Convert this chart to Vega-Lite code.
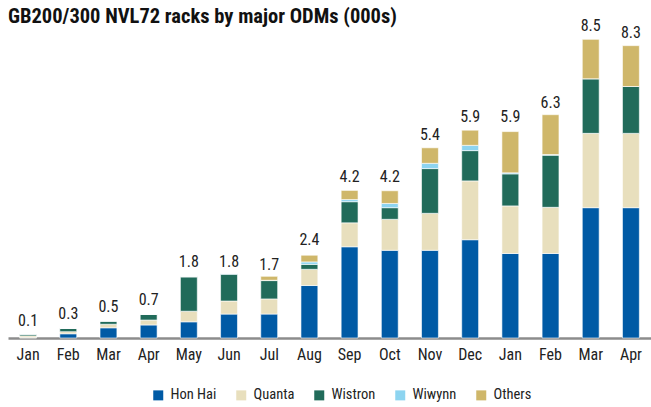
{
  "$schema": "https://vega.github.io/schema/vega-lite/v6.json",
  "width": 643,
  "height": 317,
  "autosize": "none",
  "padding": {"left": 8, "top": 21, "right": 0, "bottom": 69},
  "background": "white",
  "title": {
    "text": "GB200/300 NVL72 racks by major ODMs (000s)",
    "anchor": "start",
    "font": "Liberation Sans Narrow, Roboto Condensed, Roboto",
    "fontSize": 20.5,
    "fontWeight": "bold",
    "color": "#111111",
    "offset": 4,
    "dy": 14
  },
  "data": {
    "values": [
      {"period": "Jan 25", "Hon Hai": 0.01, "Quanta": 0.05, "Wistron": 0.05, "Wiwynn": 0, "Others": 0, "total": 0.1},
      {"period": "Feb 25", "Hon Hai": 0.12, "Quanta": 0.06, "Wistron": 0.09, "Wiwynn": 0, "Others": 0, "total": 0.3},
      {"period": "Mar 25", "Hon Hai": 0.29, "Quanta": 0.10, "Wistron": 0.09, "Wiwynn": 0, "Others": 0, "total": 0.5},
      {"period": "Apr 25", "Hon Hai": 0.37, "Quanta": 0.14, "Wistron": 0.16, "Wiwynn": 0, "Others": 0, "total": 0.7},
      {"period": "May 25", "Hon Hai": 0.46, "Quanta": 0.30, "Wistron": 0.98, "Wiwynn": 0, "Others": 0, "total": 1.8},
      {"period": "Jun 25", "Hon Hai": 0.68, "Quanta": 0.37, "Wistron": 0.76, "Wiwynn": 0.02, "Others": 0, "total": 1.8},
      {"period": "Jul 25", "Hon Hai": 0.68, "Quanta": 0.43, "Wistron": 0.52, "Wiwynn": 0.01, "Others": 0.11, "total": 1.7},
      {"period": "Aug 25", "Hon Hai": 1.49, "Quanta": 0.46, "Wistron": 0.14, "Wiwynn": 0.07, "Others": 0.19, "total": 2.4},
      {"period": "Sep 25", "Hon Hai": 2.59, "Quanta": 0.68, "Wistron": 0.60, "Wiwynn": 0.06, "Others": 0.26, "total": 4.2},
      {"period": "Oct 25", "Hon Hai": 2.49, "Quanta": 0.88, "Wistron": 0.33, "Wiwynn": 0.12, "Others": 0.36, "total": 4.2},
      {"period": "Nov 25", "Hon Hai": 2.49, "Quanta": 1.05, "Wistron": 1.27, "Wiwynn": 0.15, "Others": 0.44, "total": 5.4},
      {"period": "Dec 25", "Hon Hai": 2.79, "Quanta": 1.67, "Wistron": 0.86, "Wiwynn": 0.15, "Others": 0.43, "total": 5.9},
      {"period": "Jan 26", "Hon Hai": 2.40, "Quanta": 1.35, "Wistron": 0.91, "Wiwynn": 0.03, "Others": 1.17, "total": 5.9},
      {"period": "Feb 26", "Hon Hai": 2.40, "Quanta": 1.31, "Wistron": 1.48, "Wiwynn": 0.02, "Others": 1.13, "total": 6.3},
      {"period": "Mar 26", "Hon Hai": 3.70, "Quanta": 2.11, "Wistron": 1.55, "Wiwynn": 0, "Others": 1.12, "total": 8.5},
      {"period": "Apr 26", "Hon Hai": 3.70, "Quanta": 2.11, "Wistron": 1.33, "Wiwynn": 0, "Others": 1.16, "total": 8.3}
    ]
  },
  "encoding": {
    "x": {
      "field": "period",
      "type": "nominal",
      "sort": null,
      "scale": {"paddingInner": 0.58, "paddingOuter": 0.29},
      "axis": {
        "title": null,
        "labelExpr": "split(datum.label, ' ')[0]",
        "labelAngle": 0,
        "labelFont": "Liberation Sans Narrow, Roboto Condensed, Roboto",
        "labelFontSize": 16,
        "labelColor": "#222222",
        "labelPadding": 8,
        "ticks": false,
        "domainColor": "#8c8c8c",
        "domainWidth": 2.5,
        "grid": false
      }
    }
  },
  "layer": [
    {
      "transform": [
        {"fold": ["Hon Hai", "Quanta", "Wistron", "Wiwynn", "Others"], "as": ["series", "value"]},
        {"calculate": "indexof(['Hon Hai','Quanta','Wistron','Wiwynn','Others'], datum.series)", "as": "stackOrder"}
      ],
      "mark": {"type": "bar", "stroke": "white", "strokeWidth": 0.6},
      "encoding": {
        "y": {
          "field": "value",
          "type": "quantitative",
          "stack": "zero",
          "scale": {"domain": [0, 9], "nice": false},
          "axis": null
        },
        "color": {
          "field": "series",
          "type": "nominal",
          "scale": {
            "domain": ["Hon Hai", "Quanta", "Wistron", "Wiwynn", "Others"],
            "range": ["#005aa5", "#e8dfbd", "#216b5a", "#8dd4f0", "#cfb76a"]
          },
          "legend": {
            "title": null,
            "orient": "none",
            "direction": "horizontal",
            "legendX": 143,
            "legendY": 367,
            "symbolType": "square",
            "symbolSize": 100,
            "symbolStrokeWidth": 0,
            "labelFont": "Liberation Sans Narrow, Roboto Condensed, Roboto",
            "labelFontSize": 14.5,
            "labelColor": "#222222",
            "labelOffset": 5,
            "columnPadding": 17
          }
        },
        "order": {"field": "stackOrder", "type": "quantitative"}
      }
    },
    {
      "mark": {
        "type": "text",
        "baseline": "bottom",
        "dy": -5,
        "font": "Liberation Sans Narrow, Roboto Condensed, Roboto",
        "fontSize": 16,
        "color": "#222222"
      },
      "encoding": {
        "y": {"field": "total", "type": "quantitative", "scale": {"domain": [0, 9], "nice": false}, "axis": null},
        "text": {"field": "total", "type": "quantitative", "format": ".1f"}
      }
    }
  ],
  "config": {"view": {"stroke": null}}
}
